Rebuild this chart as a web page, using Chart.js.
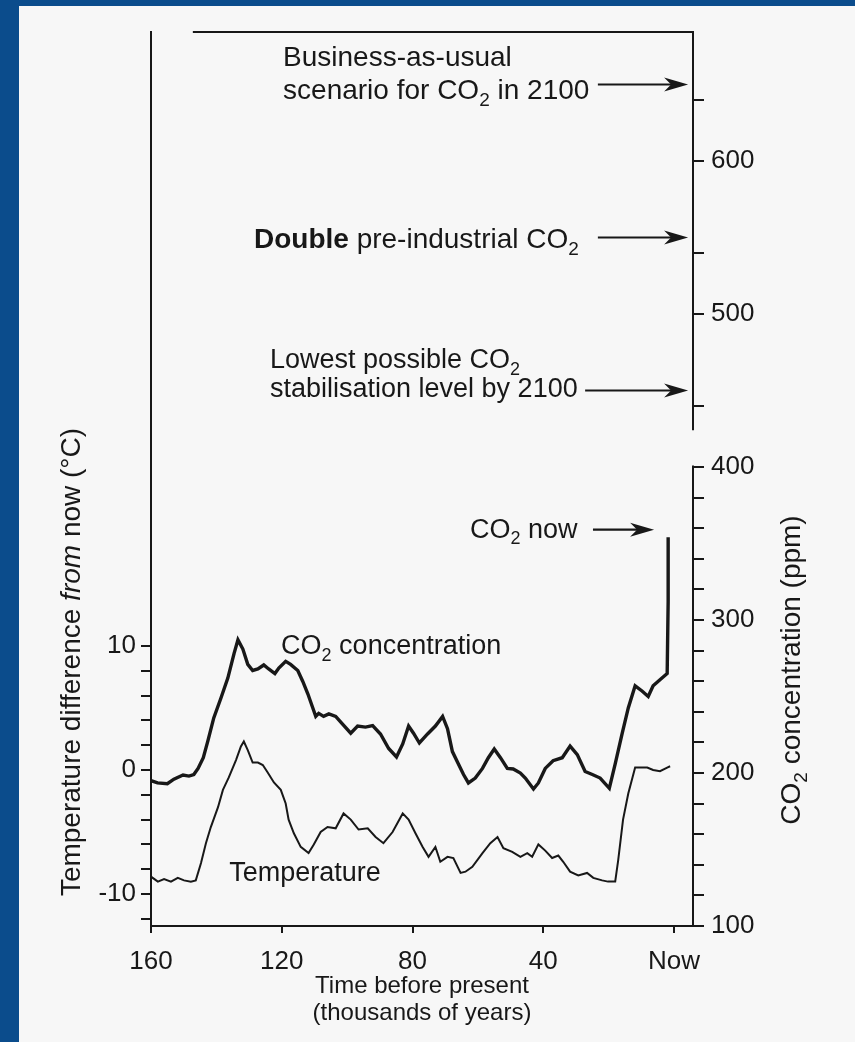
<!DOCTYPE html>
<html>
<head>
<meta charset="utf-8">
<script src="https://cdn.jsdelivr.net/npm/chart.js@4.4.1/dist/chart.umd.min.js"></script>
<style>
    html, body { margin: 0; padding: 0; width: 855px; height: 1042px; overflow: hidden; background: #0b4c8c; }
    #panel { position: absolute; left: 19px; top: 6px; right: 0; bottom: 0; background: #f7f7f7; }
    #chart { position: absolute; left: 0; top: 0; }
</style>
</head>
<body>
<div id="panel"></div>
<canvas id="chart" width="855" height="1042"></canvas>
<script>
// Ice-core record (thousands of years before present)
const co2Age = [160, 158, 155, 153, 150.2, 148.4, 146.9, 145.6, 144, 142.6, 140.8, 138.6, 136.5, 134.6, 133.4,
    131.9, 130.4, 128.9, 127.3, 125.5, 124, 122.1, 120.9, 118.8, 117.3, 115.1, 113.6, 112, 110.5, 109.6, 108.7,
    107.2, 105.6, 103.5, 101.4, 98.9, 96.8, 94.4, 92.2, 89.8, 87.3, 84.9, 83, 81.2, 79.7, 77.9, 75.4, 73, 70.8,
    69.3, 67.8, 66, 64.4, 62.9, 60.8, 58.6, 56.8, 55, 53.1, 51, 49.2, 47, 45.5, 43, 41.5, 39.4, 37, 34.2, 31.8,
    29.6, 27.2, 25, 22.6, 19.8, 18, 15.9, 14, 11.9, 9.8, 7.9, 6.4, 4.3, 2.1, 1.8, 1.8];
const co2Ppm = [195, 193.5, 193, 196, 198.7, 198, 199, 203, 210, 221, 236, 249, 262, 278, 287,
    281, 271, 267, 268, 270.6, 268, 265, 268.6, 273, 271, 267, 260, 251.6, 242.5, 237, 239,
    237, 238.6, 237, 232, 226, 230.7, 230, 231, 225.5, 216, 210.5, 219, 230.7, 226, 219.6, 225.5, 230.7, 237,
    229, 214, 206, 199, 193.5, 196.7, 203, 210, 215.7, 210, 203, 202.6, 200, 196.7, 189.5, 193.5, 203, 208, 210, 217.6,
    212, 201, 199, 196.7, 190, 206, 225.5, 242.5, 257, 253.6, 250, 257, 261, 265, 312, 354];

const tempAge = [160, 157.9, 156, 153.9, 151.8, 149.9, 147.8, 146.3, 144.7, 143.2, 141.7, 139.5, 138, 136.2, 134,
    132.5, 131.6, 130.4, 128.9, 127.3, 125.8, 124.3, 122.4, 120.3, 118.8, 117.9, 116.3, 114.2, 111.8, 110.2, 108.1,
    106, 103.5, 101.1, 98.9, 96.5, 93.7, 91.3, 88.9, 86.1, 83, 81.2, 79.1, 76.9, 75.1, 73, 71.5, 69.3, 67.5, 65.3,
    63.8, 61.7, 58.6, 56.2, 54, 52.2, 49.5, 47, 44.9, 43.4, 41.5, 39.4, 37.3, 35.4, 33.9, 31.8, 29.3, 26.6, 24.7,
    22, 20.2, 18, 17.1, 15.6, 14, 11.9, 10.4, 8.2, 6.4, 4.3, 2.1, 1.2];
const tempDiff = [-8.6, -9.0, -8.8, -9.0, -8.7, -8.9, -9.0, -8.9, -7.5, -5.9, -4.6, -3.0, -1.6, -0.6, 0.8,
    1.9, 2.3, 1.6, 0.6, 0.6, 0.4, -0.2, -1.0, -1.6, -2.7, -4.0, -5.1, -6.2, -6.7, -6.0, -5.0,
    -4.6, -4.7, -3.5, -4.0, -4.8, -4.7, -5.4, -5.9, -5.0, -3.5, -4.0, -5.1, -6.2, -7.0, -6.2, -7.4, -7.0, -7.1, -8.3,
    -8.2, -7.8, -6.7, -5.9, -5.4, -6.3, -6.6, -7.0, -6.7, -7.0, -6.0, -6.5, -7.1, -6.9, -7.4, -8.2, -8.5, -8.3, -8.7,
    -8.9, -9.0, -9.0, -7.3, -4.0, -1.9, 0.2, 0.2, 0.2, 0.0, -0.1, 0.2, 0.3];

// Axis ticks
const ageTicks = [160, 120, 80, 40, 0];
const ageTickLabels = ['160', '120', '80', '40', 'Now'];
const tempTicks = [-12, -10, -8, -6, -4, -2, 0, 2, 4, 6, 8, 10];
const tempTickLabels = ['', '-10', '', '', '', '', '0', '', '', '', '', '10'];
const co2Ticks = [100, 120, 140, 160, 180, 200, 220, 240, 260, 280, 300, 320, 340, 360, 380, 400, 440, 500, 540, 600, 640];
const co2TickLabels = ['100', '', '', '', '', '200', '', '', '', '', '300', '', '', '', '', '400', '', '500', '', '600', ''];

// Reference levels pointed at by arrows (ppm)
const scenarioLabels = ['Business-as-usual / scenario for CO2 in 2100', 'Double pre-industrial CO2', 'Lowest possible CO2 stabilisation level by 2100', 'CO2 now'];
const scenarioPpm = [650, 550, 450, 359];

const FONT = '"Liberation Sans", Arial, Helvetica, sans-serif';
const INK = '#181818';

// text pieces: [text, style] with n = normal, b = bold, i = italic, s = subscript
const notes = [
    { parts: [['Business-as-usual', 'n']], age: 119.6, ppm: 668.6, size: 28 },
    { parts: [['scenario for CO', 'n'], ['2', 's'], [' in 2100', 'n']], age: 119.6, ppm: 647, size: 28 },
    { parts: [['Double', 'b'], [' pre-industrial CO', 'n'], ['2', 's']], age: 128.5, ppm: 549.7, size: 28 },
    { parts: [['Lowest possible CO', 'n'], ['2', 's']], age: 123.6, ppm: 471, size: 27 },
    { parts: [['stabilisation level by 2100', 'n']], age: 123.6, ppm: 452, size: 27 },
    { parts: [['CO', 'n'], ['2', 's'], [' now', 'n']], age: 62.4, ppm: 360, size: 27 },
    { parts: [['CO', 'n'], ['2', 's'], [' concentration', 'n']], age: 120.2, ppm: 283.7, size: 27 },
    { parts: [['Temperature', 'n']], age: 136.1, temp: -8.2, size: 27 }
];
const arrowFrom = [23.3, 23.3, 27.2, 24.8];
const arrowTo = [-4.3, -4.3, -4.3, 6.1];

function fontFor(style, size) {
    if (style === 'b') return `bold ${size}px ${FONT}`;
    if (style === 'i') return `italic ${size}px ${FONT}`;
    if (style === 's') return `${Math.round(size * 0.68)}px ${FONT}`;
    return `${size}px ${FONT}`;
}

function richWidth(ctx, parts, size) {
    let w = 0;
    parts.forEach(([t, s]) => { ctx.font = fontFor(s, size); w += ctx.measureText(t).width; });
    return w;
}

function drawRich(ctx, x, y, parts, size) {
    ctx.textAlign = 'left';
    ctx.textBaseline = 'alphabetic';
    let cx = x;
    const base = y + size * 0.35;
    parts.forEach(([t, s]) => {
        ctx.font = fontFor(s, size);
        ctx.fillText(t, cx, s === 's' ? base + size * 0.25 : base);
        cx += ctx.measureText(t).width;
    });
}

function drawArrow(ctx, x1, x2, y) {
    ctx.beginPath();
    ctx.moveTo(x1, y);
    ctx.lineTo(x2 - 14, y);
    ctx.lineWidth = 2.2;
    ctx.stroke();
    ctx.beginPath();
    ctx.moveTo(x2, y);
    ctx.lineTo(x2 - 24, y - 7);
    ctx.lineTo(x2 - 17, y);
    ctx.lineTo(x2 - 24, y + 7);
    ctx.closePath();
    ctx.fill();
}

const overlay = {
    id: 'overlay',
    afterDraw(chart) {
        const ctx = chart.ctx;
        const sx = chart.scales.x, sc = chart.scales.yC, st = chart.scales.yT;
        const area = chart.chartArea;
        ctx.save();
        ctx.strokeStyle = INK;
        ctx.fillStyle = INK;

        // partial top frame and the broken right-hand axis
        ctx.lineWidth = 2;
        ctx.beginPath();
        ctx.moveTo(sx.getPixelForValue(147.2), area.top);
        ctx.lineTo(area.right, area.top);
        ctx.lineTo(area.right, sc.getPixelForValue(424));
        ctx.moveTo(area.right, sc.getPixelForValue(401));
        ctx.lineTo(area.right, area.bottom);
        ctx.stroke();

        notes.forEach(n => {
            const y = n.temp !== undefined ? st.getPixelForValue(n.temp) : sc.getPixelForValue(n.ppm);
            drawRich(ctx, sx.getPixelForValue(n.age), y, n.parts, n.size);
        });

        scenarioPpm.forEach((p, i) => {
            drawArrow(ctx, sx.getPixelForValue(arrowFrom[i]), sx.getPixelForValue(arrowTo[i]), sc.getPixelForValue(p));
        });

        // left axis title (rotated)
        const leftTitle = [['Temperature difference ', 'n'], ['from', 'i'], [' now (°C)', 'n']];
        ctx.save();
        ctx.translate(70, 662);
        ctx.rotate(-Math.PI / 2);
        drawRich(ctx, -richWidth(ctx, leftTitle, 28) / 2, 0, leftTitle, 28);
        ctx.restore();

        // right axis title (rotated, reads bottom to top)
        const rightTitle = [['CO', 'n'], ['2', 's'], [' concentration (ppm)', 'n']];
        ctx.save();
        ctx.translate(790, 670);
        ctx.rotate(-Math.PI / 2);
        drawRich(ctx, -richWidth(ctx, rightTitle, 28) / 2, 0, rightTitle, 28);
        ctx.restore();

        // x axis title
        ctx.font = `24px ${FONT}`;
        ctx.textAlign = 'center';
        ctx.textBaseline = 'middle';
        const cx = (area.left + area.right) / 2;
        ctx.fillText('Time before present', cx, 986);
        ctx.fillText('(thousands of years)', cx, 1013);
        ctx.restore();
    }
};

const tickFont = { family: FONT, size: 26 };

new Chart(document.getElementById('chart'), {
    type: 'line',
    data: {
        datasets: [
            {
                label: 'CO2 concentration',
                data: co2Age.map((a, i) => ({ x: a, y: co2Ppm[i] })),
                yAxisID: 'yC',
                borderColor: INK,
                borderWidth: 3.4,
                pointRadius: 0,
                tension: 0,
                fill: false
            },
            {
                label: 'Temperature',
                data: tempAge.map((a, i) => ({ x: a, y: tempDiff[i] })),
                yAxisID: 'yT',
                borderColor: INK,
                borderWidth: 2,
                pointRadius: 0,
                tension: 0,
                fill: false
            }
        ]
    },
    options: {
        responsive: false,
        animation: false,
        devicePixelRatio: 1,
        layout: { padding: { top: 32, left: 0, right: 0, bottom: 0 } },
        plugins: { legend: { display: false }, tooltip: { enabled: false } },
        scales: {
            x: {
                type: 'linear',
                position: 'bottom',
                reverse: true,
                min: -5.8,
                max: 160,
                afterBuildTicks: s => { s.ticks = ageTicks.map(v => ({ value: v })); },
                afterFit: s => { s.height = 116; },
                ticks: {
                    callback: v => ageTickLabels[ageTicks.indexOf(v)],
                    font: tickFont, color: INK, padding: 13, maxRotation: 0, autoSkip: false
                },
                grid: { drawOnChartArea: false, drawTicks: true, tickLength: 7, color: INK, lineWidth: 2 },
                border: { display: true, color: INK, width: 2 }
            },
            yT: {
                type: 'linear',
                position: 'left',
                min: -12.58,
                max: 59.52,
                afterBuildTicks: s => { s.ticks = tempTicks.map(v => ({ value: v })); },
                afterFit: s => { s.width = 151; },
                ticks: {
                    callback: v => tempTickLabels[tempTicks.indexOf(v)],
                    font: tickFont, color: INK, padding: 5, autoSkip: false
                },
                grid: { drawOnChartArea: false, drawTicks: true, tickLength: 10, color: INK, lineWidth: 2 },
                border: { display: true, color: INK, width: 2 }
            },
            yC: {
                type: 'linear',
                position: 'right',
                min: 100,
                max: 684.3,
                afterBuildTicks: s => { s.ticks = co2Ticks.map(v => ({ value: v })); },
                afterFit: s => { s.width = 162; },
                ticks: {
                    callback: v => co2TickLabels[co2Ticks.indexOf(v)],
                    font: tickFont, color: INK, padding: 7, autoSkip: false
                },
                grid: { drawOnChartArea: false, drawTicks: true, tickLength: 11, color: INK, lineWidth: 2 },
                border: { display: false }
            }
        }
    },
    plugins: [overlay]
});
</script>
</body>
</html>
